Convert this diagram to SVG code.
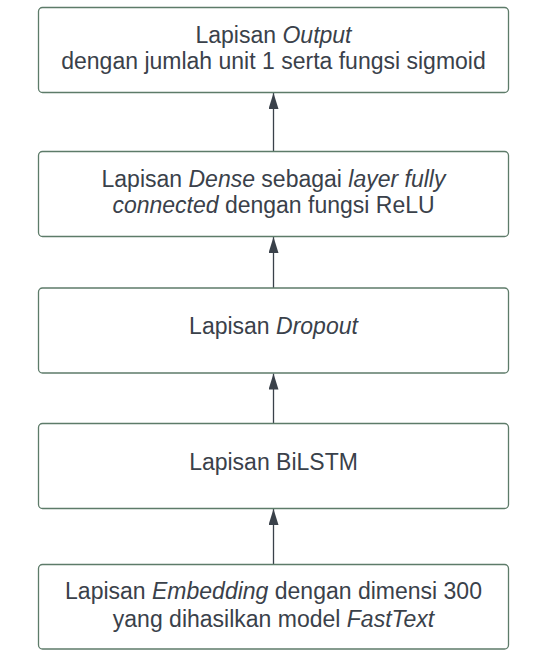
<svg xmlns="http://www.w3.org/2000/svg" width="544" height="658" viewBox="0 0 544 658">
<style>
.box{fill:#ffffff;stroke:#5d7b69;stroke-width:1.3}
.t{font-family:"Liberation Sans",Arial,sans-serif;font-size:23px;fill:#3a414a;text-anchor:middle}
.i{font-style:italic}
.c{stroke:#3a414a;stroke-width:1.3;fill:none}
</style>
<defs>
<marker id="ah" viewBox="0 0 16 10" refX="16" refY="5" markerWidth="16" markerHeight="10" markerUnits="userSpaceOnUse" orient="auto">
<path d="M0,0 L16,5 L0,10 Z" fill="#3a414a"/>
</marker>
</defs>
<rect width="544" height="658" fill="#ffffff"/>
<g id="connectors">
<line class="c" x1="273.5" y1="151.5" x2="273.5" y2="93" marker-end="url(#ah)"/>
<line class="c" x1="273.5" y1="288" x2="273.5" y2="237" marker-end="url(#ah)"/>
<line class="c" x1="273.5" y1="423.5" x2="273.5" y2="373.5" marker-end="url(#ah)"/>
<line class="c" x1="273.5" y1="564.5" x2="273.5" y2="509" marker-end="url(#ah)"/>
</g>
<g id="node-output">
<rect class="box" x="38.5" y="7.5" width="470" height="85" rx="4"/>
<text class="t" x="273.5" y="42.7">Lapisan <tspan class="i">Output</tspan></text>
<text class="t" x="273.5" y="69">dengan jumlah unit 1 serta fungsi sigmoid</text>
</g>
<g id="node-dense">
<rect class="box" x="38.5" y="151.5" width="470" height="85" rx="4"/>
<text class="t" x="273.5" y="186.7">Lapisan <tspan class="i">Dense</tspan> sebagai <tspan class="i">layer fully</tspan></text>
<text class="t" x="273.5" y="213.3"><tspan class="i">connected</tspan> dengan fungsi ReLU</text>
</g>
<g id="node-dropout">
<rect class="box" x="38.5" y="288" width="470" height="85" rx="4"/>
<text class="t" x="273.5" y="334">Lapisan <tspan class="i">Dropout</tspan></text>
</g>
<g id="node-bilstm">
<rect class="box" x="38.5" y="423.5" width="470" height="85" rx="4"/>
<text class="t" x="273.5" y="470">Lapisan BiLSTM</text>
</g>
<g id="node-embedding">
<rect class="box" x="38.5" y="564.5" width="470" height="84.5" rx="4"/>
<text class="t" x="273.5" y="599.3">Lapisan <tspan class="i">Embedding</tspan> dengan dimensi 300</text>
<text class="t" x="273.5" y="626.5">yang dihasilkan model <tspan class="i">FastText</tspan></text>
</g>
</svg>
